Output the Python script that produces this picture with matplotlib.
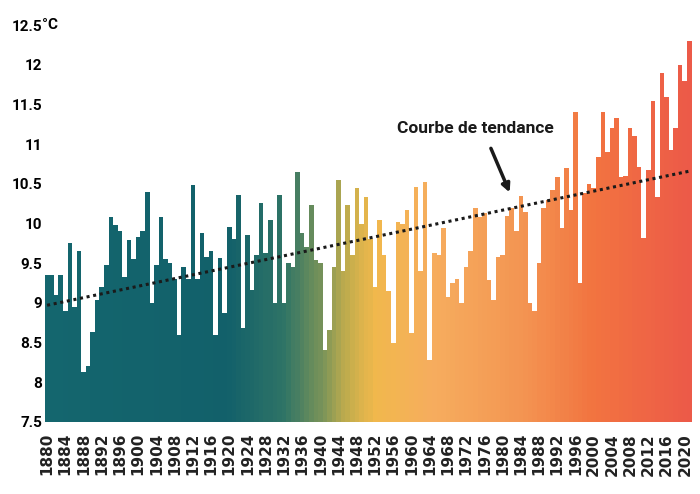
import numpy as np
import matplotlib
matplotlib.use("Agg")
import matplotlib.pyplot as plt
from matplotlib.colors import LinearSegmentedColormap

# annual mean temperature (°C)
years = list(range(1880, 2022))
temps = [
    9.35, 9.35, 9.10, 9.35, 8.90, 9.75, 8.95, 9.65, 8.13, 8.20,
    8.63, 9.04, 9.20, 9.48, 10.08, 9.98, 9.90, 9.33, 9.79, 9.55,
    9.83, 9.90, 10.40, 9.00, 9.48, 10.08, 9.55, 9.50, 9.30, 8.60,
    9.45, 9.30, 10.48, 9.30, 9.88, 9.58, 9.66, 8.60, 9.56, 8.87,
    9.96, 9.80, 10.36, 8.68, 9.85, 9.16, 9.60, 10.26, 9.63, 10.04,
    9.00, 10.36, 9.00, 9.50, 9.45, 10.65, 9.88, 9.70, 10.23, 9.54,
    9.50, 8.40, 8.66, 9.45, 10.55, 9.40, 10.23, 9.60, 10.45, 10.00,
    10.34, 9.80, 9.20, 10.04, 9.60, 9.15, 8.50, 10.02, 10.00, 10.17,
    8.62, 10.46, 9.40, 10.52, 8.28, 9.63, 9.60, 9.94, 9.07, 9.25,
    9.30, 9.00, 9.45, 9.66, 10.20, 10.08, 10.13, 9.29, 9.04, 9.58,
    9.60, 10.10, 10.20, 9.90, 10.35, 10.15, 9.00, 8.90, 9.50, 10.20,
    10.30, 10.42, 10.59, 9.95, 10.70, 10.17, 11.40, 9.25, 10.38, 10.50,
    10.45, 10.84, 11.40, 10.90, 11.20, 11.33, 10.59, 10.60, 11.20, 11.10,
    10.71, 9.82, 10.68, 11.55, 10.34, 11.90, 11.60, 10.93, 11.20, 12.00,
    11.80, 12.30,
]
tick_years = list(range(1880, 2021, 4))
y_ticks = [7.5, 8, 8.5, 9, 9.5, 10, 10.5, 11, 11.5, 12, 12.5]
y_labels = ["7.5", "8", "8.5", "9", "9.5", "10", "10.5", "11", "11.5", "12", "12.5"]
trend_years = [1880, 2021]
trend_values = [8.97, 10.66]

narrow = ["Liberation Sans Narrow", "Roboto", "DejaVu Sans"]

# teal -> green -> yellow -> orange -> red, running along the years
cmap = LinearSegmentedColormap.from_list("warming", [
    (0.00, "#14666e"),
    (0.28, "#12606a"),
    (0.37, "#2f7466"),
    (0.43, "#7d9558"),
    (0.47, "#c6ae4c"),
    (0.51, "#f1b84c"),
    (0.60, "#f6ad5e"),
    (0.74, "#f39552"),
    (0.85, "#f27440"),
    (1.00, "#ec5a48"),
])
pos = (np.array(years) - years[0]) / (years[-1] - years[0])
colors = cmap(pos)

fig = plt.figure(figsize=(7, 4.94), dpi=100)
ax = fig.add_axes([0.064, 0.146, 0.924, 0.803])

ax.bar(years, np.array(temps) - 7.5, bottom=7.5, width=1.0,
       color=colors, linewidth=0, zorder=2)
ax.plot(trend_years, trend_values, linestyle=(0, (1, 1.2)), color="#1a1a1a",
        linewidth=2.2, zorder=3)

ax.set_xlim(1879.5, 2021.5)
ax.set_ylim(7.5, 12.5)
ax.set_yticks(y_ticks)
ax.set_yticklabels(y_labels, fontfamily=narrow, fontweight="bold", fontsize=11)
ax.set_xticks(tick_years)
ax.set_xticklabels([str(y) for y in tick_years], rotation=90,
                   fontweight="bold", fontsize=11, color="#222222")
ax.tick_params(axis="both", length=0)
ax.tick_params(axis="y", pad=2)
ax.tick_params(axis="x", pad=8)
for s in ax.spines.values():
    s.set_visible(False)

ax.text(-0.005, 1.0, "°C", transform=ax.transAxes, ha="left", va="center",
        fontfamily=narrow, fontweight="bold", fontsize=11)

ax.text(1974, 11.2, "Courbe de tendance", ha="center", va="center",
        fontfamily=narrow, fontweight="bold", fontsize=12.5, color="#1a1a1a")
ax.annotate("", xy=(1981.8, 10.36), xytext=(1977.2, 10.98),
            arrowprops=dict(arrowstyle="-|>", lw=2.5, color="#1a1a1a",
                            mutation_scale=12))

fig.savefig("out.png", dpi=100)
